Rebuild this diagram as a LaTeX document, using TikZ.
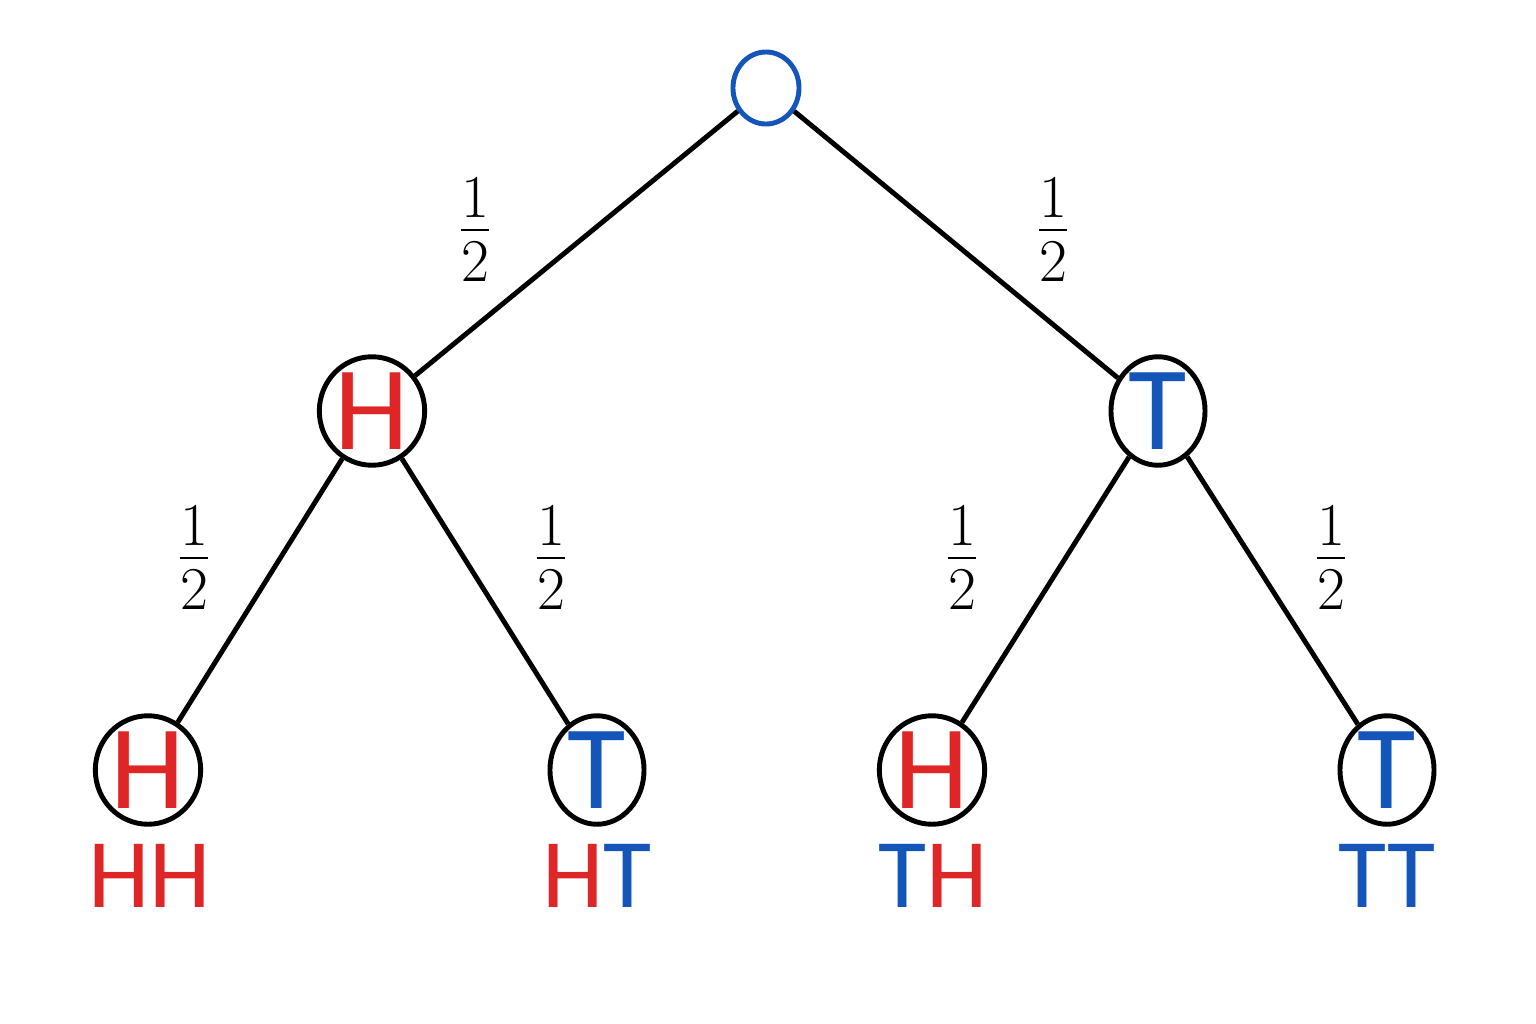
\documentclass[tikz,border=0pt]{standalone}
\usepackage{fontspec}
\setsansfont{Carlito}
\usepackage{xcolor}
\usetikzlibrary{shapes.geometric}
\definecolor{hred}{RGB}{222,38,38}
\definecolor{tblue}{RGB}{20,85,185}
\begin{document}
\begin{tikzpicture}[x=0.01cm, y=-0.01cm, thick,
  main/.style = {draw, ellipse, line width=1.4pt, inner sep=0pt, font=\sffamily\fontsize{34}{34}\selectfont, minimum height=1.04cm, minimum width=0.94cm},
  outcome/.style = {font=\sffamily\fontsize{28}{28}\selectfont},
  prob/.style = {font=\fontsize{24}{24}\selectfont}]
        \useasboundingbox (0,0) rectangle (1536,1024);
        \node[main, draw=tblue, minimum width=0.66cm, minimum height=0.72cm] (R) at (766,88) {};
        \node[main, text=hred] (H) at (372,411) {H};
        \node[main, text=tblue] (T) at (1158,411) {T};
        \node[main, text=hred] (HH) at (148,770) {H};
        \node[main, text=tblue] (HT) at (597,770) {T};
        \node[main, text=hred] (TH) at (932,770) {H};
        \node[main, text=tblue] (TT) at (1387,770) {T};

        \draw[line width=1.4pt] (R) -- (H);
        \draw[line width=1.4pt] (R) -- (T);
        \draw[line width=1.4pt] (H) -- (HH);
        \draw[line width=1.4pt] (H) -- (HT);
        \draw[line width=1.4pt] (T) -- (TH);
        \draw[line width=1.4pt] (T) -- (TT);

        \node[prob] (p1) at (475,230) {$\frac{1}{2}$};
        \node[prob] (p2) at (1053,230) {$\frac{1}{2}$};
        \node[prob] (p3) at (194,558) {$\frac{1}{2}$};
        \node[prob] (p4) at (551,558) {$\frac{1}{2}$};
        \node[prob] (p5) at (962,558) {$\frac{1}{2}$};
        \node[prob] (p6) at (1331,558) {$\frac{1}{2}$};

        \node[outcome, text=hred] (lHH) at (150,876) {HH};
        \node[outcome] (lHT) at (597,876) {\textcolor{hred}{H}\textcolor{tblue}{T}};
        \node[outcome] (lTH) at (933,876) {\textcolor{tblue}{T}\textcolor{hred}{H}};
        \node[outcome, text=tblue] (lTT) at (1387,876) {TT};
    \end{tikzpicture}
\end{document}
